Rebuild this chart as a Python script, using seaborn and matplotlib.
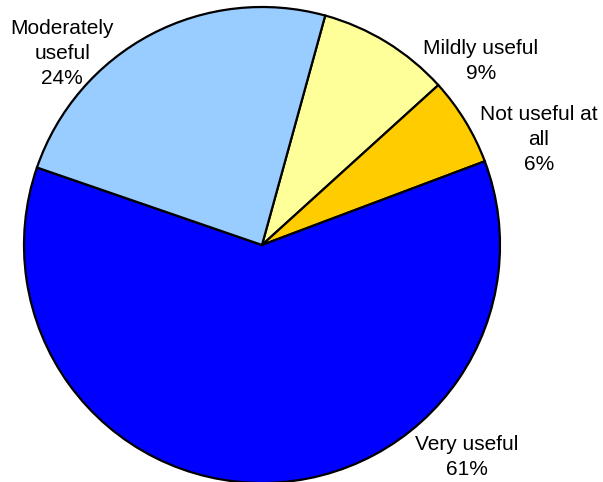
import matplotlib
matplotlib.use("Agg")
import matplotlib.pyplot as plt
import seaborn as sns

# Survey responses: how useful respondents found it (percent)
categories = ["Mildly useful", "Not useful at\nall", "Very useful", "Moderately\nuseful"]
shares = [9, 6, 61, 24]
slice_colors = ["#FFFF99", "#FFCC00", "#0000FF", "#99CCFF"]

sns.set_style("white")
plt.rcParams["font.family"] = ["Liberation Sans", "DejaVu Sans"]

W, H, DPI = 603, 482, 100
fig = plt.figure(figsize=(W / DPI, H / DPI), dpi=DPI)

# square axes holding the unit-radius pie
cx, cy, r = 262, 245, 238
ax = fig.add_axes([(cx - r) / W, (H - cy - r) / H, 2 * r / W, 2 * r / H])
ax.pie(
    shares,
    colors=slice_colors,
    startangle=74.6,
    counterclock=False,
    radius=1.0,
    wedgeprops=dict(edgecolor="black", linewidth=1.6),
)
ax.set_xlim(-1, 1)
ax.set_ylim(-1, 1)
ax.set_aspect("equal")
ax.axis("off")

# label anchors (axes data units, pie radius = 1)
label_xy = [(0.92, 0.775), (1.164, 0.445), (0.861, -0.89), (-0.84, 0.805)]
for name, pct, (x, y) in zip(categories, shares, label_xy):
    ax.text(x, y, f"{name}\n{pct}%", ha="center", va="center",
            fontsize=15, color="black", linespacing=1.4, clip_on=False)

fig.savefig("out.png", dpi=DPI)
